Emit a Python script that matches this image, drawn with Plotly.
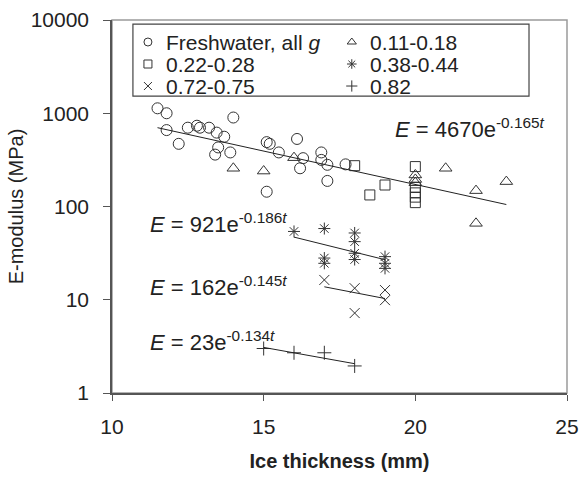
import numpy as np
import plotly.graph_objects as go

# Measured E-modulus against ice thickness, grouped by salinity class g
fresh_t = [11.5, 11.8, 11.8, 12.2, 12.5, 12.8, 12.9, 13.2, 13.45, 13.5, 13.4, 13.7, 13.9, 14.0,
           15.1, 15.2, 15.1, 15.5, 16.1, 16.2, 16.3, 16.9, 16.9, 17.1, 17.1, 17.7]
fresh_E = [1130, 1000, 660, 470, 700, 735, 700, 700, 620, 430, 360, 560, 380, 900,
           490, 470, 144, 380, 530, 257, 330, 380, 316, 280, 188, 283]

g011_t = [14.0, 15.0, 16.0, 20.0, 20.0, 20.0, 21.0, 22.0, 22.0, 23.0]
g011_E = [257, 240, 334, 218, 195, 180, 257, 148, 66, 185]

g022_t = [18.0, 18.5, 19.0, 20.0, 20.0, 20.0, 20.0, 20.0]
g022_E = [274, 133, 170, 268, 160, 140, 126, 110]

g038_t = [16.0, 17.0, 17.0, 17.0, 18.0, 18.0, 18.0, 18.0, 19.0, 19.0, 19.0]
g038_E = [54, 58, 28, 24.6, 52, 42, 31.5, 27, 29, 24.6, 21.7]

g072_t = [17.0, 18.0, 18.0, 19.0, 19.0]
g072_E = [16.3, 13.3, 7.2, 12.7, 9.9]

g082_t = [15.0, 16.0, 17.0, 18.0]
g082_E = [3.0, 2.7, 2.7, 1.95]

series_names = ["Freshwater, all <i>g</i>", "0.11-0.18", "0.22-0.28",
                "0.38-0.44", "0.72-0.75", "0.82"]

# Exponential fits E = a*exp(b*t) and the thickness span each covers
fit_a = [4670, 921, 162, 23]
fit_b = [-0.165, -0.186, -0.145, -0.134]
fit_span = [(11.5, 23.0), (16.0, 19.0), (17.0, 19.0), (15.0, 18.0)]

y_tickvals = [1, 10, 100, 1000, 10000]
y_ticktext = ["1", "10", "100", "1000", "10000"]
x_tickvals = [10, 15, 20, 25]

INK = "#333333"
TEXT = "#222222"
FONT = "Arial, Liberation Sans, sans-serif"

fig = go.Figure()

symbols = ["circle-open", "triangle-up-open", "square-open",
           "asterisk-open", "x-thin-open", "cross-thin-open"]
sizes = [11, 11, 10, 10, 10, 10]
data = [(fresh_t, fresh_E), (g011_t, g011_E), (g022_t, g022_E),
        (g038_t, g038_E), (g072_t, g072_E), (g082_t, g082_E)]

for name, (t, e), sym, sz in zip(series_names, data, symbols, sizes):
    fig.add_trace(go.Scatter(
        x=t, y=e, mode="markers", name=name, showlegend=False,
        marker=dict(symbol=sym, size=sz, color=INK,
                    line=dict(color=INK, width=1)),
    ))

for a, b, (t0, t1) in zip(fit_a, fit_b, fit_span):
    tt = np.array([t0, t1])
    fig.add_trace(go.Scatter(
        x=tt, y=a * np.exp(b * tt), mode="lines", showlegend=False,
        line=dict(color="#222222", width=1),
    ))

# Fit equations
eq_pos = [(19.26, 2.842), (11.19, 1.823), (11.19, 1.147), (11.19, 0.558)]
for a, b, (x, y) in zip(fit_a, fit_b, eq_pos):
    fig.add_annotation(
        x=x, y=y, xref="x", yref="y", xanchor="left", yanchor="middle",
        text=f"<i>E</i> = {a}e<sup>{b:.3f}<i>t</i></sup>",
        showarrow=False, font=dict(family=FONT, size=22, color=TEXT),
    )

# Boxed two-column key, drawn in paper coordinates on an overlay axis
key_box = dict(x0=0.046, x1=0.9165, y0=0.796, y1=0.989)
key_cols = [0.079, 0.527]          # symbol centres
key_text_dx = 0.035
key_rows = [0.941, 0.882, 0.823]
for i, (name, sym) in enumerate(zip(series_names, symbols)):
    kx = key_cols[i % 2]
    ky = key_rows[i // 2]
    fig.add_trace(go.Scatter(
        x=[kx], y=[ky], xaxis="x2", yaxis="y2", mode="markers",
        showlegend=False, hoverinfo="skip",
        marker=dict(symbol=sym, size=8, color=INK, line=dict(color=INK, width=1)),
    ))
    fig.add_annotation(
        x=kx + key_text_dx, y=ky, xref="paper", yref="paper",
        xanchor="left", yanchor="middle", text=name, showarrow=False,
        font=dict(family=FONT, size=21, color=TEXT),
    )
fig.add_shape(type="rect", xref="paper", yref="paper", **key_box,
              line=dict(color="#444444", width=1.2), fillcolor="rgba(0,0,0,0)")

# Light outer frame of the plotting area
fig.add_shape(type="rect", xref="paper", yref="paper", x0=0, x1=1, y0=0, y1=1,
              line=dict(color="#9a9a9a", width=1.5), layer="below")

fig.update_layout(
    width=581, height=477,
    margin=dict(l=112, r=14, t=20, b=84, autoexpand=False),
    paper_bgcolor="white", plot_bgcolor="white",
    font=dict(family=FONT, size=21, color=TEXT),
    showlegend=False,
    xaxis=dict(
        range=[10, 25], tickvals=x_tickvals, ticks="outside", ticklen=6,
        showline=True, linecolor="#555555", linewidth=1.5,
        showgrid=False, zeroline=False, tickcolor="#555555",
        ticklabelstandoff=8,
        title=dict(text="<b>Ice thickness (mm)</b>", font=dict(size=20), standoff=17),
        tickfont=dict(size=21),
    ),
    yaxis=dict(
        type="log", range=[0, 4], tickvals=y_tickvals, ticktext=y_ticktext,
        ticks="outside", ticklen=7, showline=True, linecolor="#555555",
        linewidth=1.5, showgrid=False, zeroline=False,
        tickcolor="#555555", ticklabelstandoff=10,
        title=dict(text="E-modulus (MPa)", font=dict(size=20), standoff=2),
        tickfont=dict(size=21),
    ),
    xaxis2=dict(range=[0, 1], overlaying="x", visible=False, fixedrange=True),
    yaxis2=dict(range=[0, 1], overlaying="y", visible=False, fixedrange=True),
)

fig.write_html("out.html")
